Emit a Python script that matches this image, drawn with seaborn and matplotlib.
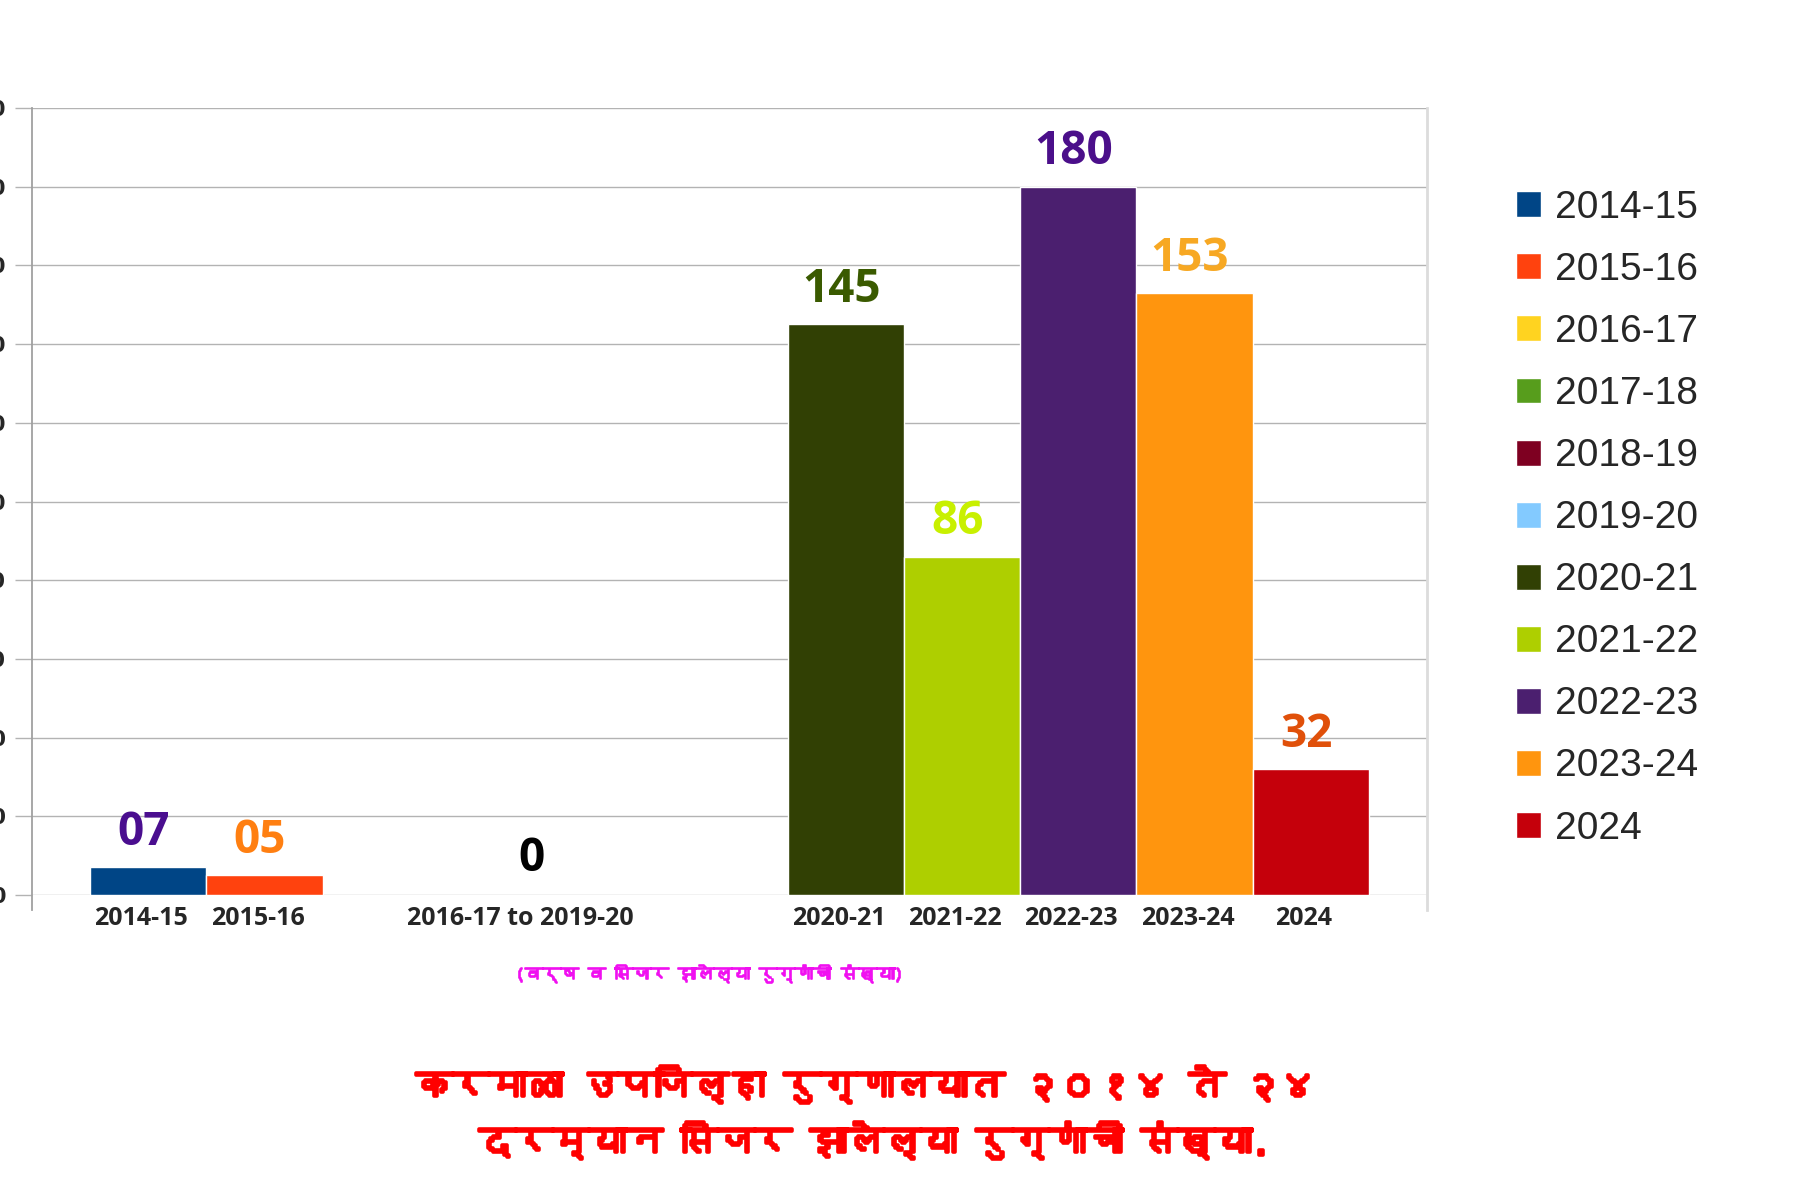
import matplotlib
matplotlib.use("Agg")
import matplotlib.pyplot as plt
import matplotlib.patheffects as pe
import numpy as np
import pandas as pd
import seaborn as sns
from matplotlib import font_manager
from matplotlib.ft2font import FT2Font

# ---------------- data ----------------
periods = ["2014-15", "2015-16", "2016-17", "2017-18", "2018-19", "2019-20",
           "2020-21", "2021-22", "2022-23", "2023-24", "2024"]
cesarean_counts = [7, 5, 0, 0, 0, 0, 145, 86, 180, 153, 32]
bar_colors = ["#004586", "#ff420e", "#ffd320", "#579d1c", "#7e0021", "#83caff",
              "#314004", "#aecf00", "#4b1f6f", "#ff950e", "#c5000b"]
value_labels = ["07", "05", "", "", "", "", "145", "86", "180", "153", "32"]
value_label_colors = ["#4a0e8f", "#ff7f11", None, None, None, None,
                      "#3a5a00", "#c8f000", "#4b0f8a", "#f7a823", "#e0500a"]
group_value_label = "0"
tick_labels = ["2014-15", "2015-16", "2016-17 to 2019-20", "2020-21",
               "2021-22", "2022-23", "2023-24", "2024"]
y_ticks = list(range(0, 201, 20))
subtitle = "(वर्ष व सिजर झालेल्या रुग्णांची संख्या)"
title_lines = ["करमाळा उपजिल्हा रुग्णालयात २०१४ ते २४",
               "दरम्यान सिजर झालेल्या रुग्णांची संख्या."]

df = pd.DataFrame({"period": periods, "count": cesarean_counts})

# ---------------- fonts ----------------
deva_font = None
for f in font_manager.fontManager.ttflist:
    try:
        cm = FT2Font(f.fname).get_charmap()
        if 0x0915 in cm and 0x0930 in cm and 0x0967 in cm:
            deva_font = f.name
            break
    except Exception:
        pass

sns.set_style("white")
plt.rcParams["font.family"] = ["Open Sans", "DejaVu Sans"]
deva_family = ([deva_font] if deva_font else []) + ["DejaVu Sans"]

# ---------------- figure ----------------
fig = plt.figure(figsize=(18.16, 12.01), dpi=100)
ax = fig.add_axes([32 / 1816, 1 - 895 / 1201, (1427 - 32) / 1816, (895 - 108) / 1201])

sns.barplot(data=df, x="period", y="count", hue="period", palette=bar_colors,
            width=1.0, saturation=1, ax=ax, legend=True)

ax.set_xlim(-1, len(periods))
ax.set_ylim(0, 200)
ax.set_yticks(y_ticks)
ax.set_yticklabels([str(t) for t in y_ticks], fontweight="bold", fontsize=15,
                   family="DejaVu Sans")
ax.tick_params(axis="y", length=12.2, width=1, color="#b3b3b3", pad=6.5,
               direction="out", left=True)
ax.yaxis.grid(True, color="#b3b3b3", linewidth=1)
ax.xaxis.grid(False)
ax.set_axisbelow(True)
ax.set_xlabel("")
ax.set_ylabel("")

# x ticks: individual bars plus the grouped zero-years label
zero_idx = [i for i, v in enumerate(cesarean_counts) if v == 0]
group_pos = float(np.mean(zero_idx))
tick_pos = [i - 0.06 for i, v in enumerate(cesarean_counts) if v != 0]
tick_pos = tick_pos[:2] + [group_pos - 0.3] + tick_pos[2:]
ax.set_xticks(tick_pos)
ax.set_xticklabels(tick_labels, fontweight="bold", fontsize=18)
ax.tick_params(axis="x", length=0, pad=8)

for s in ["top", "bottom"]:
    ax.spines[s].set_visible(False)
ax.spines["left"].set_color("#a0a0a0")
ax.spines["left"].set_linewidth(1.3)
ax.spines["right"].set_color("#dcdcdc")
ax.spines["right"].set_linewidth(2)
ax.spines["left"].set_bounds(-3.8, 200)
ax.spines["right"].set_bounds(-3.8, 200)

# value labels
for i, (v, lab, col) in enumerate(zip(cesarean_counts, value_labels, value_label_colors)):
    if lab:
        ax.annotate(lab, (i - 0.04, v), xytext=(0, 25), textcoords="offset points",
                    ha="center", va="center", fontsize=33, fontweight="bold",
                    color=col, annotation_clip=False)
ax.annotate(group_value_label, (group_pos - 0.2, 0), xytext=(0, 26),
            textcoords="offset points", ha="center", va="center",
            fontsize=33, fontweight="bold", color="black")

# legend
sns.move_legend(ax, "upper left",
                bbox_to_anchor=(1516 / 1816, 1 - 190 / 1201),
                bbox_transform=fig.transFigure, frameon=False, title=None,
                prop={"family": "Liberation Sans", "size": 28},
                handlelength=0.65, handleheight=0.65, handletextpad=0.35,
                labelspacing=0.67, borderpad=0, borderaxespad=0)

# texts (stroke thickens the Devanagari face to look bold)
fig.text(709 / 1816, 1 - 973 / 1201, subtitle, ha="center", va="center",
         fontsize=13, color="#f010f0", family=deva_family,
         path_effects=[pe.withStroke(linewidth=1.2, foreground="#f010f0")])
fig.text(866 / 1816, 1 - 1085 / 1201, title_lines[0], ha="center", va="center",
         fontsize=26.5, color="#ff0000", family=deva_family,
         path_effects=[pe.withStroke(linewidth=2.6, foreground="#ff0000")])
fig.text(874 / 1816, 1 - 1141 / 1201, title_lines[1], ha="center", va="center",
         fontsize=26.5, color="#ff0000", family=deva_family,
         path_effects=[pe.withStroke(linewidth=2.6, foreground="#ff0000")])

fig.savefig("out.png", dpi=100, facecolor="white")
